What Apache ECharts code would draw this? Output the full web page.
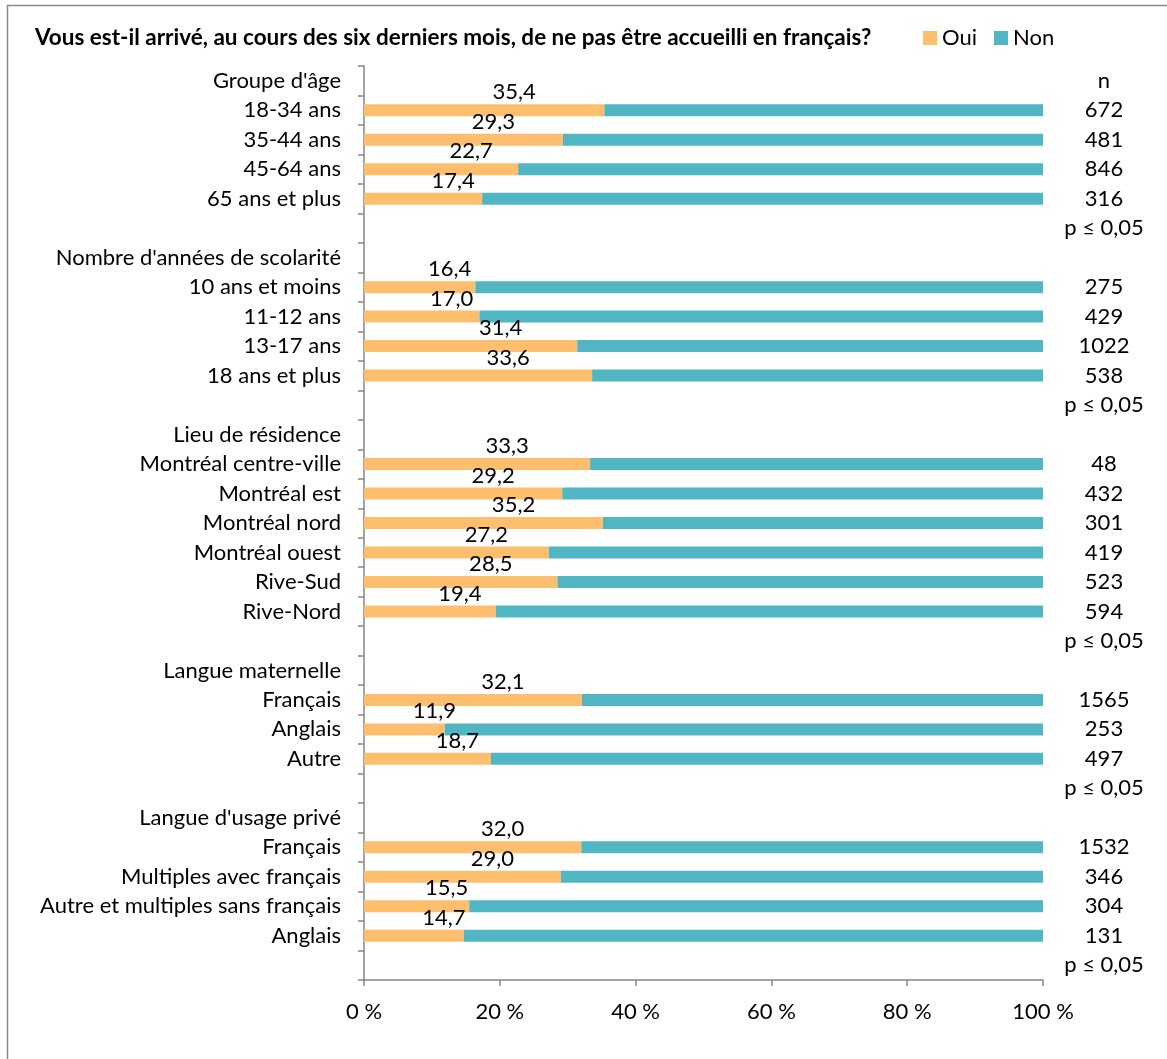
<!DOCTYPE html>
<html>
<head>
<meta charset="utf-8">
<script src="https://cdn.jsdelivr.net/npm/echarts@6/dist/echarts.min.js"></script>
<style>html,body{margin:0;padding:0;background:#fff}#c{width:1167px;height:1059px}</style>
</head>
<body>
<div id="c"></div>
<script>
const titleText = "Vous est-il arrivé, au cours des six derniers mois, de ne pas être accueilli en français?";
const categories = ["Groupe d'âge","18-34 ans","35-44 ans","45-64 ans","65 ans et plus","",
  "Nombre d'années de scolarité","10 ans et moins","11-12 ans","13-17 ans","18 ans et plus","",
  "Lieu de résidence","Montréal centre-ville","Montréal est","Montréal nord","Montréal ouest","Rive-Sud","Rive-Nord","",
  "Langue maternelle","Français","Anglais","Autre","",
  "Langue d'usage privé","Français","Multiples avec français","Autre et multiples sans français","Anglais",""];
const oui = ['-',35.4,29.3,22.7,17.4,'-',
  '-',16.4,17.0,31.4,33.6,'-',
  '-',33.3,29.2,35.2,27.2,28.5,19.4,'-',
  '-',32.1,11.9,18.7,'-',
  '-',32.0,29.0,15.5,14.7,'-'];
const non = ['-',64.6,70.7,77.3,82.6,'-',
  '-',83.6,83.0,68.6,66.4,'-',
  '-',66.7,70.8,64.8,72.8,71.5,80.6,'-',
  '-',67.9,88.1,81.3,'-',
  '-',68.0,71.0,84.5,85.3,'-'];
const nLabels = ['n','672','481','846','316','p ≤ 0,05',
  '','275','429','1022','538','p ≤ 0,05',
  '','48','432','301','419','523','594','p ≤ 0,05',
  '','1565','253','497','p ≤ 0,05',
  '','1532','346','304','131','p ≤ 0,05'];
const xTicks = [0,20,40,60,80,100];

const FONT = 'Lato';
const chart = echarts.init(document.getElementById('c'), null, {renderer:'canvas'});
chart.setOption({
  backgroundColor:'#ffffff',
  animation:false,
  textStyle:{fontFamily:FONT, color:'#000'},
  graphic:[{type:'rect', shape:{x:7.5,y:5.5,width:1300,height:1200}, style:{fill:'none', stroke:'#8a8a8a', lineWidth:1.5}, silent:true}],
  title:{text:titleText, left:35, top:26, padding:0,
    textStyle:{fontFamily:FONT, fontWeight:'bold', fontSize:22.5, color:'#000'}},
  legend:{left:923, top:27, padding:0, itemWidth:14, itemHeight:14, itemGap:17, icon:'rect',
    textStyle:{fontFamily:FONT, fontSize:22, color:'#000'},
    data:['Oui','Non']},
  grid:{left:364, right:124, top:66, bottom:79, containLabel:false},
  xAxis:{type:'value', min:0, max:100, interval:20,
    axisLine:{show:true, lineStyle:{color:'#868686', width:1.5}},
    axisTick:{show:true, length:6, lineStyle:{color:'#868686', width:1.5}},
    splitLine:{show:false},
    axisLabel:{margin:21, fontFamily:FONT, fontSize:22, color:'#000',
      formatter:function(v){ return xTicks.indexOf(v) >= 0 ? v + ' %' : ''; }}},
  yAxis:[{type:'category', inverse:true, data:categories, boundaryGap:true,
      axisLine:{show:true, lineStyle:{color:'#868686', width:1.5}},
      axisTick:{show:true, length:6, lineStyle:{color:'#868686', width:1.5}},
      axisLabel:{interval:0, margin:23, fontFamily:FONT, fontSize:22, color:'#000'}},
    {type:'category', inverse:true, position:'right', data:categories, boundaryGap:true,
      axisLine:{show:false}, axisTick:{show:false},
      axisLabel:{interval:0, margin:61, align:'center', fontFamily:FONT, fontSize:22, color:'#000',
        formatter:function(v, i){ return nLabels[i]; }}}],
  series:[
    {name:'Oui', type:'bar', stack:'t', barWidth:12, data:oui,
      itemStyle:{color:'#FDBE6E'},
      label:{show:true, position:'top', distance:1, offset:[30,0], fontFamily:FONT, fontSize:22, color:'#000',
        formatter:function(p){ return p.value.toFixed(1).replace('.', ','); }}},
    {name:'Non', type:'bar', stack:'t', barWidth:12, data:non,
      itemStyle:{color:'#51B6C3'}}
  ]
});
</script>
</body>
</html>
